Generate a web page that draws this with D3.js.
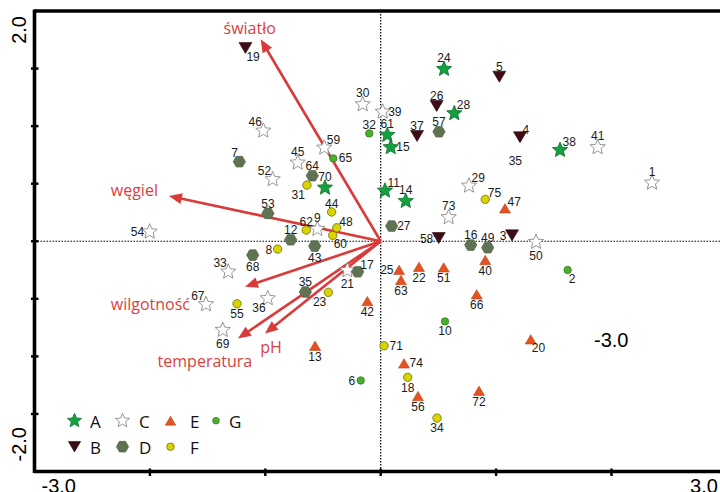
<!DOCTYPE html>
<html>
<head>
<meta charset="utf-8">
<script src="https://cdn.jsdelivr.net/npm/d3@7"></script>
<style>
  body { margin: 0; background: #fff; }
</style>
</head>
<body>
<div id="chart"></div>
<script>

// site scores, one array per group: [site, axis 1, axis 2]
var groupA = [[24,0.549,1.496],[28,0.638,1.111],[61,0.057,0.923],[15,0.087,0.816],
  [38,1.554,0.792],[70,-0.483,0.465],[11,0.037,0.439],[14,0.217,0.349]];
var groupB = [[19,-1.172,1.679],[26,0.485,1.175],[5,1.028,1.429],[37,0.315,0.914],
  [4,1.207,0.903],[58,0.503,0.028],[3,1.138,0.051]];
var groupC = [[30,-0.156,1.189],[39,0.017,1.125],[46,-1.017,0.960],[59,-0.489,0.812],
  [45,-0.719,0.682],[52,-0.936,0.538],[41,1.880,0.816],[1,2.351,0.508],
  [54,-2.002,0.083],[33,-1.321,-0.265],[67,-1.514,-0.548],[36,-0.979,-0.496],
  [69,-1.369,-0.771],[9,-0.549,0.106],[73,0.589,0.208],[29,0.765,0.482],
  [21,-0.289,-0.253],[50,1.346,-0.007]];
var groupD = [[7,-1.225,0.691],[57,0.505,0.951],[64,-0.593,0.569],[53,-0.977,0.242],
  [12,-0.780,0.013],[43,-0.572,-0.042],[68,-1.109,-0.120],[27,0.095,0.132],
  [16,0.780,-0.033],[49,0.927,-0.056],[17,-0.199,-0.265],[35,-0.653,-0.441]];
var groupE = [[47,1.077,0.286],[40,0.906,-0.163],[25,0.159,-0.248],[22,0.332,-0.222],
  [63,0.176,-0.337],[51,0.546,-0.227],[66,0.832,-0.461],[42,-0.116,-0.520],
  [13,-0.569,-0.908],[74,0.202,-1.061],[56,0.323,-1.345],[72,0.852,-1.299],
  [20,1.300,-0.852]];
var groupF = [[31,-0.639,0.488],[44,-0.425,0.254],[48,-0.381,0.117],[62,-0.645,0.097],
  [60,-0.416,0.051],[8,-0.893,-0.068],[55,-1.245,-0.543],[23,-0.454,-0.444],
  [75,0.906,0.364],[71,0.029,-0.908],[18,0.234,-1.182],[34,0.488,-1.536]];
var groupG = [[32,-0.099,0.937],[65,-0.411,0.720],[2,1.620,-0.250],[10,0.557,-0.696],
  [6,-0.173,-1.209]];

// environmental variables (arrow tips)
var envNames = ["światło", "węgiel", "wilgotność", "temperatura", "pH"];
var envX = [-1.040, -1.835, -1.176, -1.237, -1.003];
var envY = [1.754, 0.393, -0.395, -0.845, -0.802];

var xTicks = [-3, -2, -1, 0, 1, 2];
var yTicks = [1.5, 1, 0.5, 0, -0.5, -1, -1.5];
var groupNames = ["A", "B", "C", "D", "E", "F", "G"];

// where each site number sits next to its symbol
var labelSide = {
  24:"t",28:"tr",61:"t",15:"r",38:"tr",70:"t",11:"tr",14:"t",
  19:"br",26:"t",5:"t",37:"t",4:"tr",58:"l",3:"l",
  30:"t",39:"r",46:"tl",59:"tr",45:"t",52:"tl",41:"t",1:"t",54:"l",33:"tl",67:"tl",
  36:"bl",69:"b",9:"t",73:"t",29:"tr",21:"b",50:"b",
  7:"tl",57:"t",64:"t",53:"t",12:"t",43:"b",68:"b",27:"r",16:"t",49:"t",17:"tr",35:"t",
  47:"tr",40:"b",25:"l",22:"b",63:"b",51:"b",66:"b",42:"b",13:"b",74:"r",56:"b",72:"b",20:"br",
  31:"bl",44:"t",48:"tr",62:"t",60:"br",8:"l",55:"b",23:"bl",75:"tr",71:"r",18:"b",34:"b",
  32:"t",65:"r",2:"br",10:"b",6:"l"
};

var width = 720,
    height = 492;

var svg = d3.select("#chart").append("svg")
    .attr("width", width)
    .attr("height", height);

var x = d3.scaleLinear().domain([-3, 3]).range([34.5, 726.9]);
var y = d3.scaleLinear().domain([-2, 2]).range([471.5, 11]);

// custom symbol types for d3.symbol
function starType(ratio) {
  return { draw: function(ctx, size) {
    var R = Math.sqrt(size), r = R * ratio;
    for (var i = 0; i < 10; i++) {
      var a = -Math.PI / 2 + i * Math.PI / 5, rr = i % 2 ? r : R;
      if (i === 0) ctx.moveTo(rr * Math.cos(a), rr * Math.sin(a));
      else ctx.lineTo(rr * Math.cos(a), rr * Math.sin(a));
    }
    ctx.closePath();
  }};
}
function triType(down) {
  return { draw: function(ctx, size) {
    var w = Math.sqrt(size), h = w * 0.85, s = down ? -1 : 1;
    ctx.moveTo(0, -s * h / 2);
    ctx.lineTo(w / 2, s * h / 2);
    ctx.lineTo(-w / 2, s * h / 2);
    ctx.closePath();
  }};
}
var hexType = { draw: function(ctx, size) {
  var R = Math.sqrt(size);
  for (var i = 0; i < 6; i++) {
    var a = i * Math.PI / 3;
    if (i === 0) ctx.moveTo(R * Math.cos(a), R * Math.sin(a));
    else ctx.lineTo(R * Math.cos(a), R * Math.sin(a));
  }
  ctx.closePath();
}};

// per-group symbol styles; r = nominal radius used for label offsets
var styles = {
  A: {type: starType(0.45), size: 64,  r: 8,   fill: "#12a040", stroke: "#0b6e2c", sw: 0.8},
  B: {type: triType(true),  size: 169, r: 6.5, fill: "#3d0c15", stroke: "#2a070d", sw: 0.6},
  C: {type: starType(0.45), size: 64,  r: 8,   fill: "#fff",    stroke: "#8a8a8a", sw: 0.9},
  D: {type: hexType,        size: 38,  r: 6,   fill: "#5f7352", stroke: "#4a5b40", sw: 0.6},
  E: {type: triType(false), size: 121, r: 5,   fill: "#e6521f", stroke: "#b9431b", sw: 0.6},
  F: {type: d3.symbolCircle, size: 55, r: 4.2, fill: "#d9d400", stroke: "#6e6c00", sw: 0.8},
  G: {type: d3.symbolCircle, size: 43, r: 3.7, fill: "#4fae2f", stroke: "#2f7d1b", sw: 0.8}
};

var sites = [];
[groupA, groupB, groupC, groupD, groupE, groupF, groupG].forEach(function(arr, i) {
  arr.forEach(function(d) { sites.push({id: d[0], x: d[1], y: d[2], g: groupNames[i]}); });
});

// dotted zero lines
svg.append("line")
    .attr("x1", x(0)).attr("x2", x(0)).attr("y1", y(2)).attr("y2", y(-2))
    .attr("stroke", "#000").attr("stroke-width", 1.2).attr("stroke-dasharray", "1.5,1.5");
svg.append("line")
    .attr("x1", x(-3)).attr("x2", width).attr("y1", y(0)).attr("y2", y(0))
    .attr("stroke", "#000").attr("stroke-width", 1.2).attr("stroke-dasharray", "1.5,1.5");

// environmental arrows
var arrowColor = "#d93a3a";
var envLabelOffset = [[-11, -5, "middle"], [-11, 0, "end"], [-55, 23, "end"], [-33, 28, "middle"], [6, 19, "middle"]];

envNames.forEach(function(name, i) {
  var x0 = x(0), y0 = y(0), x1 = x(envX[i]), y1 = y(envY[i]);
  var dx = x1 - x0, dy = y1 - y0, len = Math.sqrt(dx * dx + dy * dy);
  var ux = dx / len, uy = dy / len, hl = 13, hw = 5.5;
  var bx = x1 - ux * hl, by = y1 - uy * hl;
  svg.append("line")
      .attr("x1", x0).attr("y1", y0).attr("x2", bx + ux * 2).attr("y2", by + uy * 2)
      .attr("stroke", arrowColor).attr("stroke-width", 2.6);
  svg.append("path")
      .attr("d", "M" + x1 + "," + y1 +
                 "L" + (bx - uy * hw) + "," + (by + ux * hw) +
                 "L" + (bx + uy * hw) + "," + (by - ux * hw) + "Z")
      .attr("fill", arrowColor);
  svg.append("text")
      .attr("x", x1 + envLabelOffset[i][0])
      .attr("y", y1 + envLabelOffset[i][1])
      .attr("text-anchor", envLabelOffset[i][2])
      .attr("font-family", "Open Sans, sans-serif")
      .attr("font-size", 16)
      .attr("fill", "#d9413f")
      .text(name);
});

// site symbols
var symbol = d3.symbol();
svg.append("g").selectAll("path")
  .data(sites)
  .enter().append("path")
    .attr("transform", function(d) { return "translate(" + x(d.x) + "," + y(d.y) + ")"; })
    .attr("d", function(d) { return symbol.type(styles[d.g].type).size(styles[d.g].size)(); })
    .attr("fill", function(d) { return styles[d.g].fill; })
    .attr("stroke", function(d) { return styles[d.g].stroke; })
    .attr("stroke-width", function(d) { return styles[d.g].sw; });

function labelPos(code, r) {
  switch (code) {
    case "t":  return [0, -(0.7 * r + 1.5), "middle"];
    case "b":  return [0, r + 10, "middle"];
    case "r":  return [5.5, 4, "start"];
    case "l":  return [-5.5, 4.5, "end"];
    case "tr": return [2.5, -r * 0.5, "start"];
    case "tl": return [-1.5, -4.5, "end"];
    case "br": return [1, 13, "start"];
    case "bl": return [-2, 14, "end"];
  }
}

svg.append("g")
    .attr("font-family", "Liberation Sans, Arial, sans-serif")
    .attr("font-size", 12)
    .attr("fill", "#1a1a1a")
  .selectAll("text")
  .data(sites)
  .enter().append("text")
    .each(function(d) {
      var p = labelPos(labelSide[d.id], styles[d.g].r);
      d3.select(this)
        .attr("x", x(d.x) + p[0])
        .attr("y", y(d.y) + p[1])
        .attr("text-anchor", p[2]);
    })
    .text(function(d) { return d.id; });

// stray site number without symbol, as in the original figure
svg.append("text")
    .attr("x", x(1.167)).attr("y", y(0.665))
    .attr("text-anchor", "middle")
    .attr("font-family", "Liberation Sans, Arial, sans-serif")
    .attr("font-size", 12).attr("fill", "#1a1a1a")
    .text("35");

// frame: left, top, bottom
var frame = svg.append("g").attr("stroke", "#000");
frame.append("line").attr("x1", x(-3)).attr("x2", x(-3)).attr("y1", y(2) - 1.5).attr("y2", y(-2) + 1.5).attr("stroke-width", 3.6);
frame.append("line").attr("x1", x(-3)).attr("x2", width).attr("y1", y(2)).attr("y2", y(2)).attr("stroke-width", 3.3);
frame.append("line").attr("x1", x(-3)).attr("x2", width).attr("y1", y(-2)).attr("y2", y(-2)).attr("stroke-width", 3.3);

frame.selectAll(".yt").data(yTicks).enter().append("line")
    .attr("x1", x(-3) - 3.5).attr("x2", x(-3) + 4)
    .attr("y1", function(d) { return y(d); }).attr("y2", function(d) { return y(d); })
    .attr("stroke-width", 2.4);
frame.selectAll(".xt").data(xTicks.slice(1)).enter().append("line")
    .attr("x1", function(d) { return x(d); }).attr("x2", function(d) { return x(d); })
    .attr("y1", y(-2) - 3).attr("y2", y(-2) + 4.5)
    .attr("stroke-width", 2.4);

// axis numbers (the bottom ones run off the lower edge, as in the original)
var axisFont = "Liberation Sans, Arial, sans-serif";
svg.append("text").attr("x", x(-3) + 7).attr("y", 493)
    .attr("font-family", axisFont).attr("font-size", 20).text("-3.0");
svg.append("text").attr("x", x(3) - 9).attr("y", 493).attr("text-anchor", "end")
    .attr("font-family", axisFont).attr("font-size", 20).text("3.0");
svg.append("text").attr("transform", "translate(26," + (y(2) + 5) + ") rotate(-90)")
    .attr("text-anchor", "end")
    .attr("font-family", axisFont).attr("font-size", 20).text("2.0");
svg.append("text").attr("transform", "translate(26," + (y(-2) - 10) + ") rotate(-90)")
    .attr("text-anchor", "start")
    .attr("font-family", axisFont).attr("font-size", 20).text("-2.0");
// misplaced axis number inside the plot of the original
svg.append("text").attr("x", x(1.998)).attr("y", y(-0.92)).attr("text-anchor", "middle")
    .attr("font-family", axisFont).attr("font-size", 20).text("-3.0");

// legend
var legendSymX = [74.5, 122.5, 170.5, 216];
var legendTextX = [90, 139, 190, 229];
var legendRows = [["A", "C", "E", "G"], ["B", "D", "F"]];
var legendRowY = [420.7, 446.7];
var legendScale = {A: 0.85, B: 0.9, C: 0.85, D: 1, E: 0.9, F: 0.8, G: 0.8};

legendRows.forEach(function(row, ri) {
  var lg = svg.append("g").selectAll("g")
    .data(row)
    .enter().append("g")
      .attr("transform", function(d, i) { return "translate(0," + legendRowY[ri] + ")"; });
  lg.append("path")
      .attr("transform", function(d, i) { return "translate(" + legendSymX[i] + ",0)"; })
      .attr("d", function(d) { return symbol.type(styles[d].type).size(styles[d].size * legendScale[d])(); })
      .attr("fill", function(d) { return styles[d].fill; })
      .attr("stroke", function(d) { return styles[d].stroke; })
      .attr("stroke-width", function(d) { return styles[d].sw; });
  lg.append("text")
      .attr("x", function(d, i) { return legendTextX[i]; })
      .attr("y", 7)
      .attr("font-family", "Open Sans, sans-serif")
      .attr("font-size", 17)
      .attr("fill", "#111")
      .text(function(d) { return d; });
});

</script>
</body>
</html>
